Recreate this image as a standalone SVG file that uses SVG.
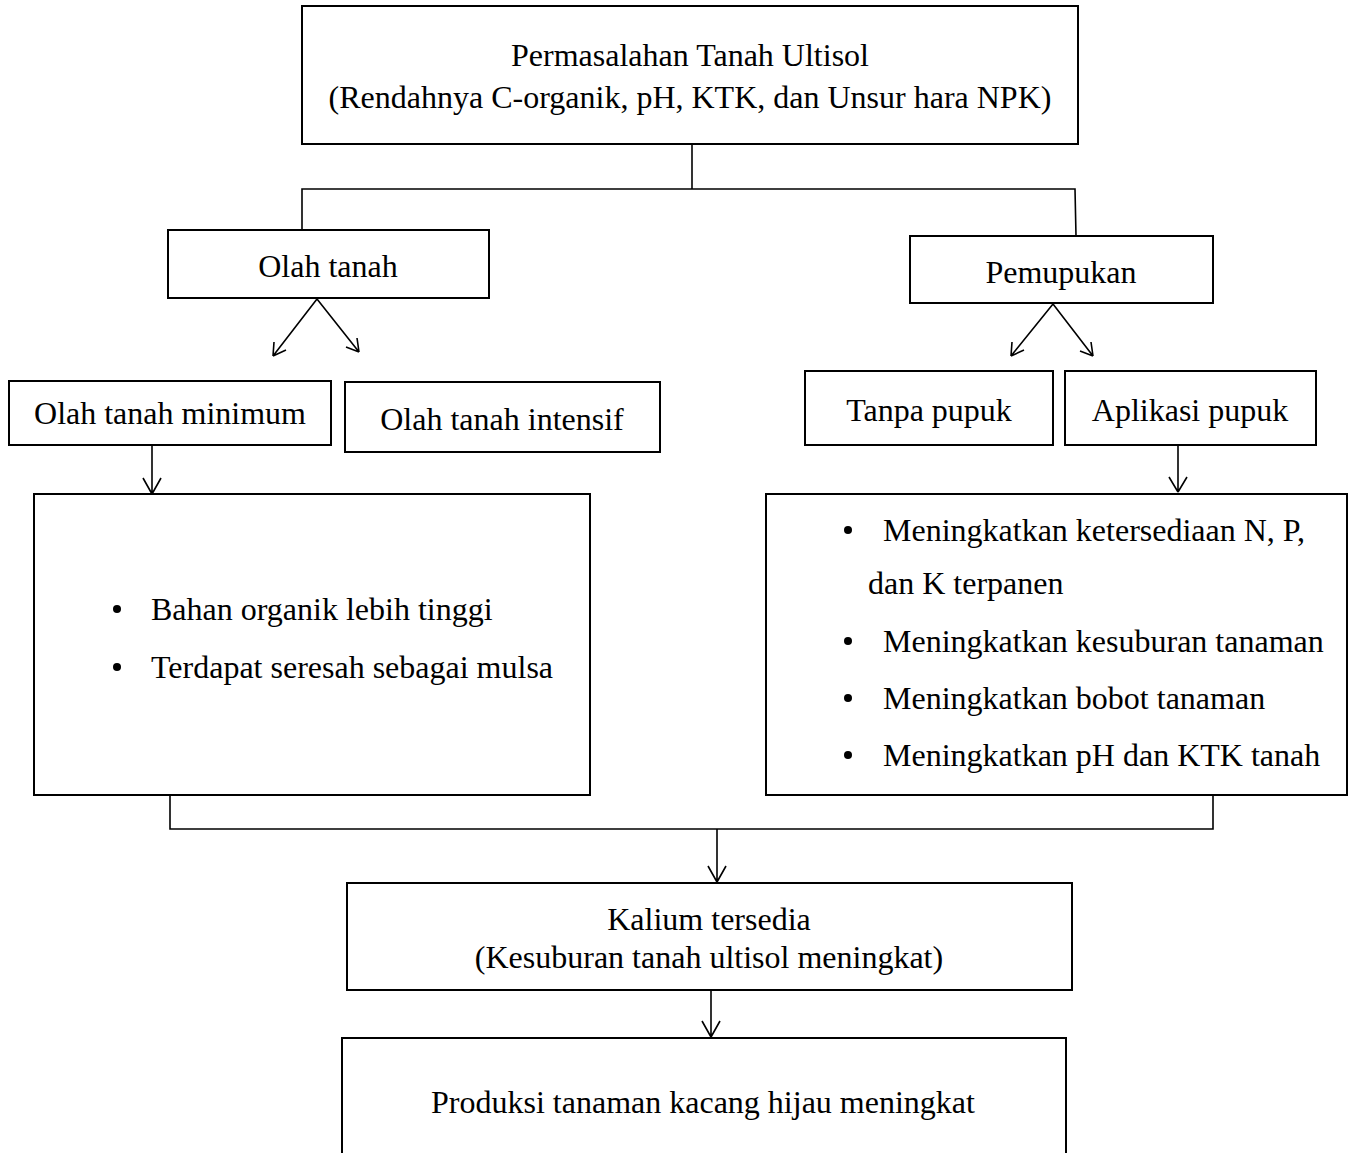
<svg xmlns="http://www.w3.org/2000/svg" width="1354" height="1153" viewBox="0 0 1354 1153">
<style>
.box{fill:#fff;stroke:#000;stroke-width:2}
.ln{fill:none;stroke:#000;stroke-width:1.6}
text{font-family:"Liberation Serif","Times New Roman",serif;font-size:32px;fill:#000}
.c{text-anchor:middle}
</style>
<rect width="1354" height="1153" fill="#fff"/>
<g id="connectors">
<polyline class="ln" points="692,144 692,189"/>
<polyline class="ln" points="302,229 302,189 1075,189 1076,236"/>
<path class="ln" d="M317,299 L273,356 M273,356 L274,342 M273,356 L286,350"/>
<path class="ln" d="M317,299 L359,352 M359,352 L357,338 M359,352 L346,347"/>
<path class="ln" d="M1053,304 L1011,356 M1011,356 L1012,342 M1011,356 L1024,350"/>
<path class="ln" d="M1053,304 L1093,356 M1093,356 L1091,342 M1093,356 L1080,351"/>
<path class="ln" d="M152,445 L152,494 M152,494 L143,478 M152,494 L161,478"/>
<path class="ln" d="M1178,445 L1178,492 M1178,492 L1169,477 M1178,492 L1187,477"/>
<polyline class="ln" points="170,795 170,829 1213,829 1213,795"/>
<path class="ln" d="M717,829 L717,882 M717,882 L708,866 M717,882 L726,866"/>
<path class="ln" d="M711,990 L711,1037 M711,1037 L702,1021 M711,1037 L720,1021"/>
</g>
<g id="n-top">
<rect class="box" x="302" y="6" width="776" height="138"/>
<text class="c" x="690" y="66">Permasalahan Tanah Ultisol</text>
<text class="c" x="690" y="108">(Rendahnya C-organik, pH, KTK, dan Unsur hara NPK)</text>
</g>
<g id="n-olah">
<rect class="box" x="168" y="230" width="321" height="68"/>
<text class="c" x="328" y="277">Olah tanah</text>
</g>
<g id="n-pupuk">
<rect class="box" x="910" y="236" width="303" height="67"/>
<text class="c" x="1061" y="283">Pemupukan</text>
</g>
<g id="n-min">
<rect class="box" x="9" y="381" width="322" height="64"/>
<text class="c" x="170" y="424">Olah tanah minimum</text>
</g>
<g id="n-int">
<rect class="box" x="345" y="382" width="315" height="70"/>
<text class="c" x="502" y="430">Olah tanah intensif</text>
</g>
<g id="n-tanpa">
<rect class="box" x="805" y="371" width="248" height="74"/>
<text class="c" x="929" y="421">Tanpa pupuk</text>
</g>
<g id="n-aplikasi">
<rect class="box" x="1065" y="371" width="251" height="74"/>
<text class="c" x="1190" y="421">Aplikasi pupuk</text>
</g>
<g id="n-left">
<rect class="box" x="34" y="494" width="556" height="301"/>
<circle cx="117" cy="609" r="4"/>
<text x="151" y="620">Bahan organik lebih tinggi</text>
<circle cx="117" cy="667" r="4"/>
<text x="151" y="678">Terdapat seresah sebagai mulsa</text>
</g>
<g id="n-right">
<rect class="box" x="766" y="494" width="581" height="301"/>
<circle cx="848" cy="530" r="4"/>
<text x="883" y="541">Meningkatkan ketersediaan N, P,</text>
<text x="868" y="594">dan K terpanen</text>
<circle cx="848" cy="641" r="4"/>
<text x="883" y="652">Meningkatkan kesuburan tanaman</text>
<circle cx="848" cy="698" r="4"/>
<text x="883" y="709">Meningkatkan bobot tanaman</text>
<circle cx="848" cy="755" r="4"/>
<text x="883" y="766">Meningkatkan pH dan KTK tanah</text>
</g>
<g id="n-kalium">
<rect class="box" x="347" y="883" width="725" height="107"/>
<text class="c" x="709" y="930">Kalium tersedia</text>
<text class="c" x="709" y="968">(Kesuburan tanah ultisol meningkat)</text>
</g>
<g id="n-produksi">
<rect class="box" x="342" y="1038" width="724" height="120"/>
<text class="c" x="703" y="1113">Produksi tanaman kacang hijau meningkat</text>
</g>
</svg>
